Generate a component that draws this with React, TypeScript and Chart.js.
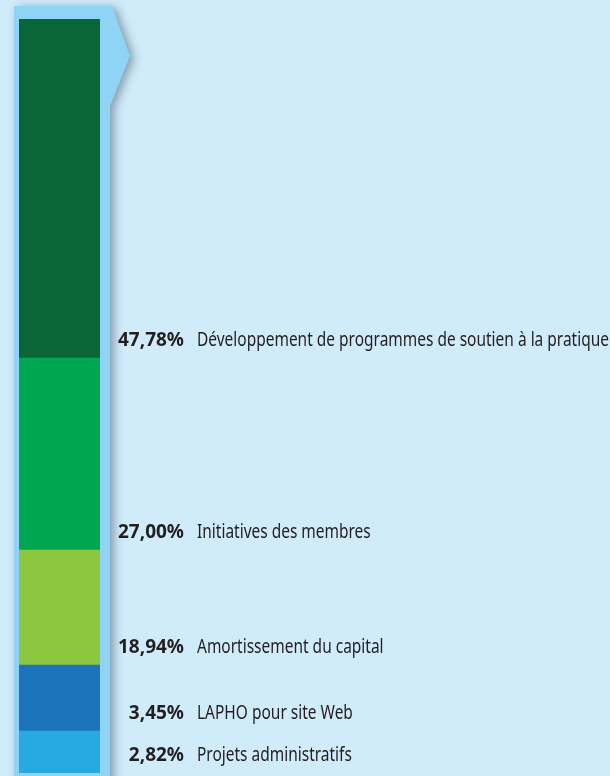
import React, { useEffect, useRef } from "react";
import { Chart, registerables } from "chart.js";

Chart.register(...registerables);

// Top to bottom
const categories = [
  "Développement de programmes de soutien à la pratique",
  "Initiatives des membres",
  "Amortissement du capital",
  "LAPHO pour site Web",
  "Projets administratifs",
];
const percentLabels = ["47,78%", "27,00%", "18,94%", "3,45%", "2,82%"];
// Visual share of the bar each segment occupies in the picture (%)
const barShare = [44.96, 25.46, 15.25, 8.75, 5.57];
const colors = ["#0a6637", "#00a651", "#8dc63f", "#1c75bc", "#27aae1"];

const BG = "#d0ebfa";
const FRAME = "#8fd4f5";
const TEXT = "#231f20";
const FONT = "'Noto Sans', 'Open Sans', sans-serif";

const framePlugin = {
  id: "frame",
  beforeDraw(chart: any) {
    const { ctx, chartArea, width, height } = chart;
    ctx.save();
    ctx.fillStyle = BG;
    ctx.fillRect(0, 0, width, height);
    const l = chartArea.left - 5;
    const r = chartArea.right + 10;
    const t = chartArea.top - 13;
    ctx.beginPath();
    ctx.moveTo(l, t);
    ctx.lineTo(r + 2, t);
    ctx.lineTo(r + 20, t + 50);
    ctx.lineTo(r, t + 100);
    ctx.lineTo(r, height + 20);
    ctx.lineTo(l, height + 20);
    ctx.closePath();
    ctx.shadowColor = "rgba(40,60,80,0.45)";
    ctx.shadowBlur = 10;
    ctx.shadowOffsetX = 4;
    ctx.shadowOffsetY = 2;
    ctx.fillStyle = FRAME;
    ctx.fill();
    ctx.restore();
  },
  afterDraw(chart: any) {
    const { ctx } = chart;
    const n = categories.length;
    ctx.save();
    ctx.textBaseline = "middle";
    ctx.fillStyle = TEXT;
    const boldFont = `bold 19px ${FONT}`;
    const regFont = `19px ${FONT}`;
    ctx.font = boldFont;
    const boldScale = 66 / ctx.measureText(percentLabels[0]).width;
    ctx.font = regFont;
    const regScale = 412 / ctx.measureText(categories[0]).width;
    for (let i = 0; i < n; i++) {
      // datasets are stored bottom-to-top
      const meta = chart.getDatasetMeta(n - 1 - i);
      const el: any = meta.data[0];
      if (!el) continue;
      const y = el.base - 17;
      const xVal = el.x + el.width / 2 + 84;
      ctx.save();
      ctx.font = boldFont;
      ctx.textAlign = "right";
      ctx.translate(xVal, y);
      ctx.scale(boldScale, 1);
      ctx.fillText(percentLabels[i], 0, 0);
      ctx.restore();
      ctx.save();
      ctx.font = regFont;
      ctx.textAlign = "left";
      ctx.translate(xVal + 13, y);
      ctx.scale(regScale, 1);
      ctx.fillText(categories[i], 0, 0);
      ctx.restore();
    }
    ctx.restore();
  },
};

export default function App() {
  const ref = useRef<HTMLCanvasElement | null>(null);
  useEffect(() => {
    document.body.style.margin = "0";
    const canvas = ref.current!;
    const n = categories.length;
    const datasets = [];
    for (let i = n - 1; i >= 0; i--) {
      datasets.push({
        label: categories[i],
        data: [barShare[i]],
        backgroundColor: colors[i],
        borderWidth: 0,
        barPercentage: 1,
        categoryPercentage: 1,
      });
    }
    const total = barShare.reduce((a, b) => a + b, 0);
    const chart = new Chart(canvas, {
      type: "bar",
      data: { labels: [""], datasets },
      options: {
        animation: false,
        responsive: false,
        layout: { padding: { left: 19, right: 510, top: 19, bottom: 3 } },
        plugins: { legend: { display: false }, tooltip: { enabled: false } },
        scales: {
          x: { stacked: true, display: false },
          y: { stacked: true, display: false, min: 0, max: total },
        },
      },
      plugins: [framePlugin],
    });
    return () => chart.destroy();
  }, []);
  return <canvas ref={ref} width={610} height={776} style={{ display: "block" }} />;
}
